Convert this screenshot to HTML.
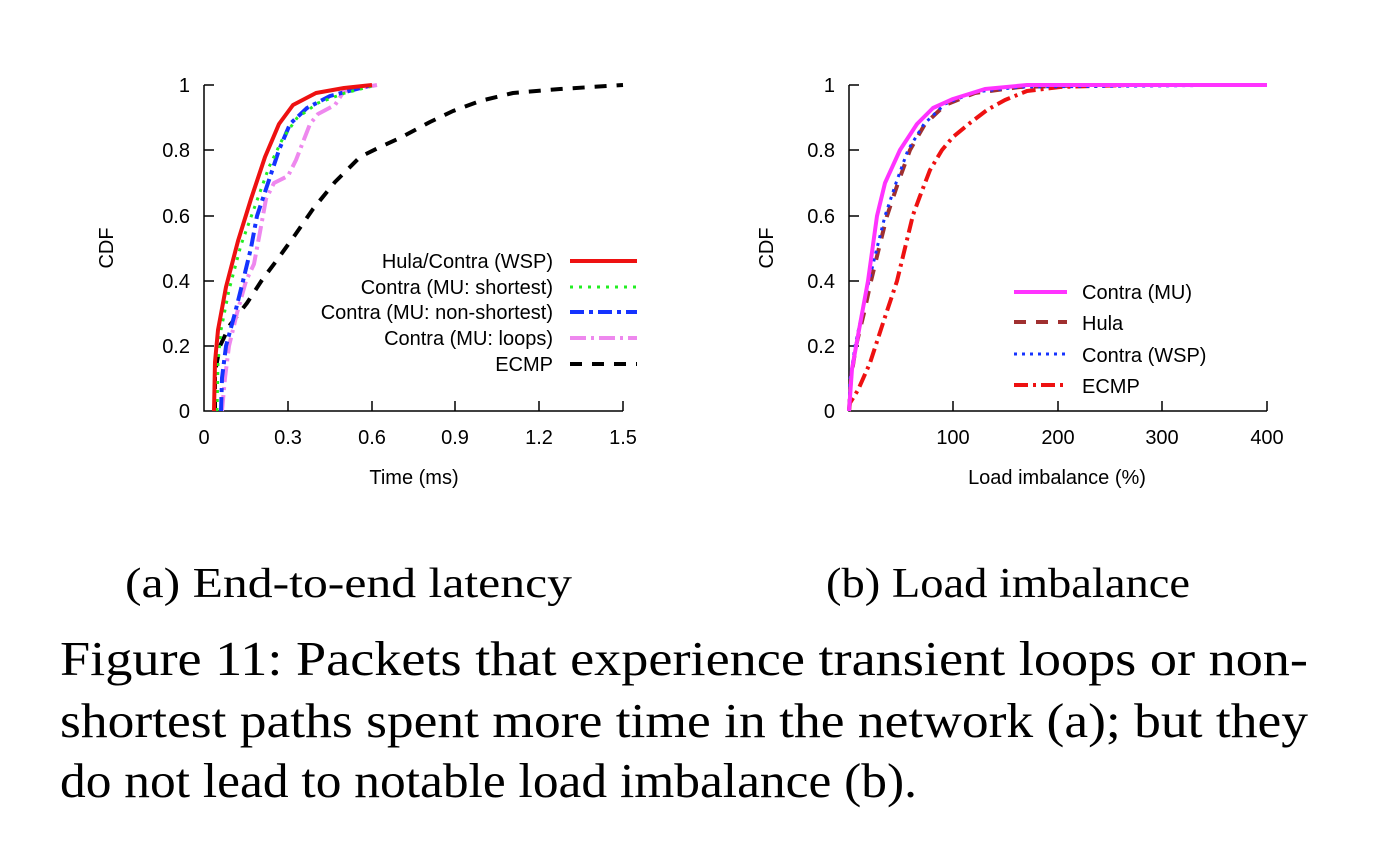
<!DOCTYPE html>
<html><head><meta charset="utf-8"><style>
html,body{margin:0;padding:0;background:#fff;}
svg{display:block;}
.t{font-family:"Liberation Sans",sans-serif;font-size:20px;fill:#000;}
.c{font-family:"Liberation Serif",serif;fill:#000;}
</style></head><body>
<svg width="1398" height="862" viewBox="0 0 1398 862" xmlns="http://www.w3.org/2000/svg">
<g fill="none" stroke="#000" stroke-width="1.5">
<path d="M204,85 V411 H623"/>
<path d="M204,85 h10 M204,150 h10 M204,216 h10 M204,281 h10 M204,346 h10"/>
<path d="M288,411 v-10 M372,411 v-10 M455,411 v-10 M539,411 v-10 M623,411 v-10"/>
</g>
<g class="t" text-anchor="end">
<text x="190" y="92">1</text><text x="190" y="157">0.8</text><text x="190" y="223">0.6</text>
<text x="190" y="288">0.4</text><text x="190" y="353">0.2</text><text x="190" y="418">0</text>
</g>
<g class="t" text-anchor="middle">
<text x="204" y="444">0</text><text x="288" y="444">0.3</text><text x="372" y="444">0.6</text>
<text x="455" y="444">0.9</text><text x="539" y="444">1.2</text><text x="623" y="444">1.5</text>
<text x="414" y="484">Time (ms)</text>
<text transform="translate(113,248) rotate(-90)">CDF</text>
</g>
<g fill="none" stroke-width="4" stroke-linejoin="round">
<polyline stroke="#000" stroke-dasharray="12,10" points="215,411 215,372 220,346 230,325 247,303 262,280 277,260 295,235 313,209 335,182 360,157 380,147 400,138 430,122 453,111 480,101 513,93 560,89 623,85"/>
<polyline stroke="#ee88ee" stroke-dasharray="16,5,3,5" points="222,411 225,378 229,346 237,313 246,281 254,264 260,232 266,199 274,183 288,176 296,160 310,124 318,114 335,105 344,91 377,85"/>
<polyline stroke="#1533ff" stroke-dasharray="14,5,4,5" points="221,411 222,378 226,346 235,313 243,281 251,248 257,216 268,183 279,150 290,124 307,108 330,96 372,85"/>
<polyline stroke="#22ee22" stroke-width="3" stroke-dasharray="3,6" points="217,411 218,362 221,330 229,290 241,245 255,206 269,167 283,138 297,118 318,103 345,93 372,86"/>
<polyline stroke="#ee1111" points="214,411 215,362 218,330 226,287 238,241 251,199 265,157 279,124 293,105 316,93 344,88 372,85"/>
</g>
<g class="t" text-anchor="end">
<text x="553" y="268">Hula/Contra (WSP)</text>
<text x="553" y="294">Contra (MU: shortest)</text>
<text x="553" y="319">Contra (MU: non-shortest)</text>
<text x="553" y="345">Contra (MU: loops)</text>
<text x="553" y="371">ECMP</text>
</g>
<g fill="none" stroke-width="4">
<line x1="570" y1="261" x2="637" y2="261" stroke="#ee1111"/>
<line x1="570" y1="287" x2="637" y2="287" stroke="#22ee22" stroke-width="3" stroke-dasharray="3,6"/>
<line x1="570" y1="312" x2="637" y2="312" stroke="#1533ff" stroke-dasharray="14,5,4,5"/>
<line x1="570" y1="338" x2="637" y2="338" stroke="#ee88ee" stroke-dasharray="16,5,3,5"/>
<line x1="570" y1="364" x2="637" y2="364" stroke="#000" stroke-dasharray="12,10"/>
</g>

<g fill="none" stroke="#000" stroke-width="1.5">
<path d="M849,85 V411 H1267"/>
<path d="M849,85 h10 M849,150 h10 M849,216 h10 M849,281 h10 M849,346 h10"/>
<path d="M953,411 v-10 M1058,411 v-10 M1162,411 v-10 M1267,411 v-10"/>
</g>
<g class="t" text-anchor="end">
<text x="835" y="92">1</text><text x="835" y="157">0.8</text><text x="835" y="223">0.6</text>
<text x="835" y="288">0.4</text><text x="835" y="353">0.2</text><text x="835" y="418">0</text>
</g>
<g class="t" text-anchor="middle">
<text x="953" y="444">100</text><text x="1058" y="444">200</text><text x="1162" y="444">300</text><text x="1267" y="444">400</text>
<text x="1057" y="484">Load imbalance (%)</text>
<text transform="translate(773,248) rotate(-90)">CDF</text>
</g>
<g fill="none" stroke-width="4" stroke-linejoin="round">
<polyline stroke="#ee1111" stroke-dasharray="14,5,3,5" points="849,411 850,403 858,390 870,363 884,320 897,281 905,248 913,215 920,196 930,170 942,150 953,137 970,123 987,110 1005,100 1027,91 1060,87 1130,85 1267,85"/>
<polyline stroke="#a03030" stroke-dasharray="12,10" points="849,411 851,378 856,346 864,313 871,281 879,248 887,216 898,183 910,150 925,124 945,105 975,93 1020,87 1100,85 1267,85"/>
<polyline stroke="#1533ff" stroke-width="3" stroke-dasharray="3,5" points="849,411 850,380 855,346 862,313 869,281 877,248 885,216 896,183 908,150 924,124 945,104 975,92 1020,87 1267,85"/>
<polyline stroke="#ff33ff" points="849,411 852,369 859,330 868,281 877,216 885,183 900,150 917,124 933,108 953,99 985,89 1027,85 1267,85"/>
</g>
<g class="t">
<text x="1082" y="299">Contra (MU)</text>
<text x="1082" y="330">Hula</text>
<text x="1082" y="362">Contra (WSP)</text>
<text x="1082" y="393">ECMP</text>
</g>
<g fill="none" stroke-width="4">
<line x1="1014" y1="292" x2="1067" y2="292" stroke="#ff33ff"/>
<line x1="1014" y1="322" x2="1067" y2="322" stroke="#a03030" stroke-dasharray="12,10"/>
<line x1="1014" y1="354" x2="1067" y2="354" stroke="#1533ff" stroke-width="3" stroke-dasharray="3,5"/>
<line x1="1014" y1="385" x2="1067" y2="385" stroke="#ee1111" stroke-dasharray="14,5,3,5"/>
</g>

<text class="c" x="125" y="597" font-size="42" textLength="447" lengthAdjust="spacingAndGlyphs">(a) End-to-end latency</text>
<text class="c" x="826" y="597" font-size="42" textLength="364" lengthAdjust="spacingAndGlyphs">(b) Load imbalance</text>
<text class="c" x="60" y="675" font-size="49" textLength="1248" lengthAdjust="spacingAndGlyphs">Figure 11:  Packets that experience transient loops or non-</text>
<text class="c" x="60" y="737" font-size="49" textLength="1248" lengthAdjust="spacingAndGlyphs">shortest paths spent more time in the network (a); but they</text>
<text class="c" x="60" y="797" font-size="49" textLength="857" lengthAdjust="spacingAndGlyphs">do not lead to notable load imbalance (b).</text>
</svg>
</body></html>
